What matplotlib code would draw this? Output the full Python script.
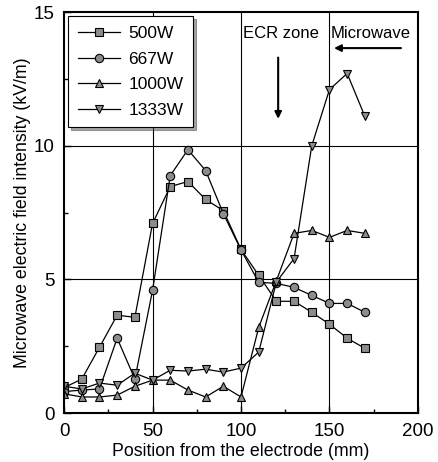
import matplotlib
matplotlib.use('Agg')
import matplotlib.pyplot as plt

# 字体
plt.rcParams['font.family'] = ['Liberation Sans', 'DejaVu Sans']

# 数据
position = [0, 10, 20, 30, 40, 50, 60, 70, 80, 90, 100, 110, 120, 130, 140, 150, 160, 170]
e_500 = [0.95, 1.27, 2.46, 3.66, 3.58, 7.09, 8.47, 8.66, 7.99, 7.57, 6.12, 5.15, 4.18, 4.18, 3.77, 3.32, 2.80, 2.42]
e_667 = [0.8, 0.86, 0.9, 2.8, 1.27, 4.59, 8.88, 9.85, 9.07, 7.46, 6.1, 4.89, 4.85, 4.7, 4.4, 4.1, 4.1, 3.77]
e_1000 = [0.72, 0.6, 0.6, 0.67, 1.0, 1.23, 1.23, 0.86, 0.6, 1.0, 0.6, 3.2, 4.95, 6.72, 6.83, 6.57, 6.83, 6.72]
e_1333 = [1.0, 0.9, 1.12, 1.04, 1.49, 1.23, 1.6, 1.57, 1.64, 1.53, 1.68, 2.28, 4.9, 5.78, 10.0, 12.1, 12.7, 11.1]

labels = ['500W', '667W', '1000W', '1333W']
markers = ['s', 'o', '^', 'v']

fig = plt.figure(figsize=(4.39, 4.62), dpi=100)
ax = fig.add_axes([0.146, 0.106, 0.806, 0.868])

for ys, lab, m in zip([e_500, e_667, e_1000, e_1333], labels, markers):
    ax.plot(position, ys, color='black', lw=0.9, marker=m, markersize=6,
            markerfacecolor='#8c8c8c', markeredgecolor='black', markeredgewidth=0.8,
            label=lab)

# 网格线
for xv in [50, 100, 150]:
    ax.axvline(xv, color='black', lw=0.8, zorder=0)
for yv in [5, 10]:
    ax.axhline(yv, color='black', lw=0.8, zorder=0)

ax.set_xlim(0, 200)
ax.set_ylim(0, 15)
ax.set_xticks([0, 50, 100, 150, 200])
ax.set_yticks([0, 5, 10, 15])
ax.set_xticks([25, 75, 125, 175], minor=True)
ax.set_yticks([2.5, 7.5, 12.5], minor=True)
ax.tick_params(direction='in', labelsize=13.5, length=5, width=1, pad=7)
ax.tick_params(which='minor', direction='in', length=3, width=1)
for s in ax.spines.values():
    s.set_linewidth(1.5)

ax.set_xlabel('Position from the electrode (mm)', fontsize=12.8, labelpad=2)
ax.set_ylabel('Microwave electric field intensity (kV/m)', fontsize=12.8, labelpad=2)

# 注释
ax.text(122.5, 14.2, 'ECR zone', fontsize=12, ha='center', va='center')
ax.annotate('', xy=(121, 10.9), xytext=(121, 13.4),
            arrowprops=dict(arrowstyle='-|>', color='black', lw=1.5, mutation_scale=10))
ax.text(173.5, 14.2, 'Microwave', fontsize=12, ha='center', va='center')
ax.annotate('', xy=(151, 13.65), xytext=(192, 13.65),
            arrowprops=dict(arrowstyle='-|>', color='black', lw=1.5, mutation_scale=10))

leg = ax.legend(loc='upper left', bbox_to_anchor=(0.0, 1.0), fontsize=12.5,
                frameon=True, fancybox=False, shadow=True, handlelength=2.4,
                borderpad=0.55, labelspacing=0.6, borderaxespad=0.25,
                handletextpad=0.5, edgecolor='black')
leg.get_frame().set_linewidth(0.8)

fig.savefig('out.png', dpi=100)
